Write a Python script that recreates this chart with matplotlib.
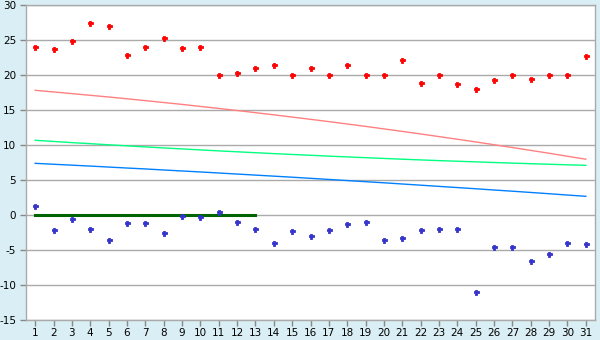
import matplotlib
matplotlib.use("Agg")
import matplotlib.pyplot as plt

categories = list(range(1, 32))

red_points = [24.0, 23.7, 24.8, 27.5, 26.95, 22.8, 24.0, 25.25, 23.8, 24.0,
              20.0, 20.3, 21.0, 21.4, 20.0, 21.0, 20.0, 21.4, 20.0, 20.0,
              22.2, 18.8, 20.0, 18.65, 17.95, 19.25, 20.0, 19.5, 20.0, 20.0, 22.65]

blue_points = [1.25, -2.2, -0.5, -2.0, -3.5, -1.2, -1.2, -2.5, -0.2, -0.35,
               0.4, -1.05, -2.05, -4.05, -2.35, -3.05, -2.2, -1.35, -1.05, -3.5,
               -3.35, -2.2, -2.05, -2.05, -11.05, -4.5, -4.5, -6.6, -5.6, -4.05, -4.2]

red_line = [17.81, 17.58, 17.34, 17.10, 16.86, 16.60, 16.34, 16.07, 15.80, 15.51,
            15.22, 14.93, 14.62, 14.31, 13.99, 13.67, 13.34, 13.00, 12.66, 12.30,
            11.94, 11.58, 11.20, 10.82, 10.44, 10.04, 9.64, 9.23, 8.82, 8.39, 7.97]

green_line = [10.67, 10.51, 10.34, 10.19, 10.03, 9.88, 9.73, 9.58, 9.44, 9.30,
              9.16, 9.03, 8.90, 8.77, 8.65, 8.53, 8.41, 8.30, 8.19, 8.08,
              7.97, 7.87, 7.77, 7.68, 7.59, 7.50, 7.41, 7.33, 7.25, 7.17, 7.10]

blue_line = [7.38, 7.25, 7.12, 6.99, 6.85, 6.71, 6.58, 6.43, 6.29, 6.15,
             6.00, 5.85, 5.70, 5.55, 5.40, 5.24, 5.08, 4.92, 4.76, 4.60,
             4.43, 4.26, 4.09, 3.92, 3.75, 3.57, 3.40, 3.22, 3.04, 2.85, 2.67]

zero_categories = list(range(1, 14))
zero_line = [0] * 13

y_ticks = [-15, -10, -5, 0, 5, 10, 15, 20, 25, 30]
y_tick_labels = ["-15", "-10", "-5", "0", "5", "10", "15", "20", "25", "30"]

bg = "#DAEFF5"
grid_c = "#AAAAAA"

fig = plt.figure(figsize=(6, 3.4), dpi=100, facecolor=bg)
ax = fig.add_axes([26/600, 1 - 320/340, 569/600, 315/340])
ax.set_facecolor("white")

ax.set_xlim(0.5, 31.5)
ax.set_ylim(-15, 30)
ax.set_yticks(y_ticks)
ax.set_yticklabels(y_tick_labels)
ax.set_xticks(categories)
ax.set_xticklabels([str(c) for c in categories])

ax.yaxis.grid(True, color=grid_c, linewidth=1.0)
ax.set_axisbelow(True)
for s in ax.spines.values():
    s.set_color(grid_c)
    s.set_linewidth(1.0)

ax.tick_params(axis="both", colors="#888888", labelcolor="black", labelsize=7.5,
               length=4, width=1, direction="out")
ax.tick_params(axis="x", pad=2)
ax.tick_params(axis="y", pad=3)

lw = 1.0
ax.plot(categories, red_line, color="#FF8080", linewidth=lw, zorder=2)
ax.plot(categories, green_line, color="#00FF80", linewidth=lw, zorder=2)
ax.plot(categories, blue_line, color="#0080FF", linewidth=lw, zorder=2)
ax.plot(zero_categories, zero_line, color="#006400", linewidth=2.2, zorder=3)

ax.plot(categories, red_points, linestyle="none", marker="P", markersize=3.6,
        color="#FF0000", markeredgecolor="#FF0000", markeredgewidth=0.6, zorder=4)
ax.plot(categories, blue_points, linestyle="none", marker="P", markersize=3.6,
        color="#3333CC", markeredgecolor="#3333CC", markeredgewidth=0.6, zorder=4)

fig.savefig("out.png", dpi=100, facecolor=bg)
